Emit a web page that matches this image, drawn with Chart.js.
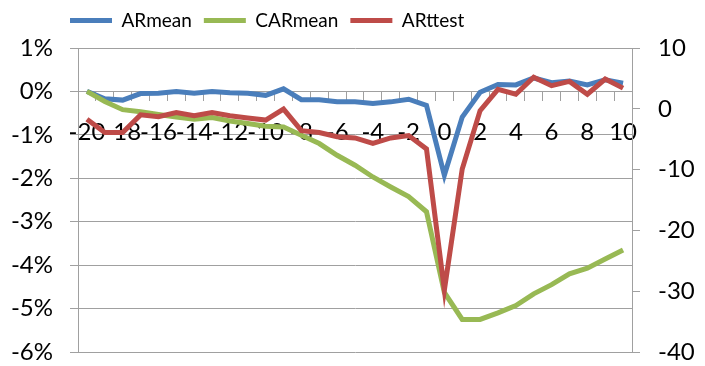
<!DOCTYPE html>
<html>
<head>
<meta charset="utf-8">
<script src="https://cdn.jsdelivr.net/npm/chart.js@4/dist/chart.umd.min.js"></script>
<style>
  html, body { margin: 0; padding: 0; background: #fff; }
  #wrap { width: 705px; height: 366px; }
</style>
</head>
<body>
<div id="wrap"><canvas id="c"></canvas></div>
<script>
// event days -20 .. 10
const days = ['-20','-19','-18','-17','-16','-15','-14','-13','-12','-11','-10','-9','-8','-7','-6','-5','-4','-3','-2','-1','0','1','2','3','4','5','6','7','8','9','10'];

// percent, left axis
const arMean = [0, -0.17, -0.2, -0.05, -0.04, 0, -0.04, 0, -0.03, -0.04, -0.09, 0.06, -0.19, -0.19, -0.24, -0.24, -0.28, -0.24, -0.18, -0.32, -1.93, -0.59, -0.02, 0.16, 0.15, 0.31, 0.2, 0.24, 0.15, 0.27, 0.19];
const carMean = [0, -0.23, -0.42, -0.47, -0.53, -0.59, -0.64, -0.6, -0.68, -0.74, -0.8, -0.82, -1.01, -1.2, -1.47, -1.7, -1.97, -2.2, -2.42, -2.77, -4.63, -5.25, -5.25, -5.1, -4.93, -4.66, -4.45, -4.2, -4.07, -3.86, -3.65];
// t statistic, right axis
const arTtest = [-1.7, -3.9, -3.9, -1.0, -1.3, -0.6, -1.15, -0.6, -1.15, -1.5, -1.85, -0.05, -3.6, -3.9, -4.6, -4.8, -5.7, -4.8, -4.4, -6.6, -29.8, -9.9, -0.3, 3.2, 2.4, 5.2, 3.8, 4.5, 2.4, 4.9, 3.4];

const gridGray = '#a0a0a0';
const fontFam = 'Lato, "Liberation Sans", sans-serif';

// legend sits left of centre in the original, a bit higher than chart.js puts it
const legendNudge = {
    id: 'legendNudge',
    afterLayout(chart) {
        chart.legend.left = 58;
        chart.legend.top = -1;
    }
};

new Chart(document.getElementById('c'), {
    type: 'line',
    data: {
        labels: days,
        datasets: [{
            label: 'ARmean',
            data: arMean,
            borderColor: '#4a7ebb',
            backgroundColor: '#4a7ebb',
            borderWidth: 5,
            pointRadius: 0,
            tension: 0,
            yAxisID: 'y',
            order: 3
        }, {
            label: 'CARmean',
            data: carMean,
            borderColor: '#98b954',
            backgroundColor: '#98b954',
            borderWidth: 5,
            pointRadius: 0,
            tension: 0,
            yAxisID: 'y',
            order: 2
        }, {
            label: 'ARttest',
            data: arTtest,
            borderColor: '#be4b48',
            backgroundColor: '#be4b48',
            borderWidth: 5,
            pointRadius: 0,
            tension: 0,
            yAxisID: 'y2',
            order: 1
        }]
    },
    plugins: [legendNudge],
    options: {
        responsive: true,
        maintainAspectRatio: false,
        animation: false,
        layout: { padding: { left: 0, right: 0, top: 7, bottom: 14 } },
        scales: {
            x: {
                position: { y: 0 },
                offset: true,
                grid: {
                    offset: true,
                    drawOnChartArea: false,
                    drawTicks: true,
                    tickLength: 9,
                    color: gridGray
                },
                border: { color: gridGray },
                ticks: {
                    autoSkip: false,
                    maxRotation: 0,
                    padding: 17,
                    color: '#000',
                    font: { family: fontFam, size: 24 },
                    callback: function (v, i) { return i % 2 === 0 ? days[i] : ''; }
                },
                afterFit: s => { s.paddingLeft = 0; s.paddingRight = 0; }
            },
            y: {
                position: 'left',
                min: -6,
                max: 1,
                grid: { color: gridGray, tickLength: 8 },
                border: { color: gridGray },
                ticks: {
                    stepSize: 1,
                    padding: 17,
                    color: '#000',
                    font: { family: fontFam, size: 24 },
                    callback: v => v + '%'
                },
                afterFit: s => { s.width = 78; s.paddingTop = 0; s.paddingBottom = 0; }
            },
            y2: {
                position: 'right',
                min: -40,
                max: 10,
                grid: { drawOnChartArea: false, color: gridGray, tickLength: 8 },
                border: { color: gridGray },
                ticks: {
                    stepSize: 10,
                    padding: 18,
                    color: '#000',
                    font: { family: fontFam, size: 24 }
                },
                afterFit: s => { s.width = 73; s.paddingTop = 0; s.paddingBottom = 0; }
            }
        },
        plugins: {
            legend: {
                display: true,
                position: 'top',
                align: 'start',
                labels: {
                    usePointStyle: true,
                    pointStyle: 'line',
                    pointStyleWidth: 42,
                    padding: 12,
                    color: '#000',
                    font: { family: fontFam, size: 19 },
                    sort: (a, b) => a.datasetIndex - b.datasetIndex
                }
            },
            tooltip: { enabled: false }
        }
    }
});
</script>
</body>
</html>
